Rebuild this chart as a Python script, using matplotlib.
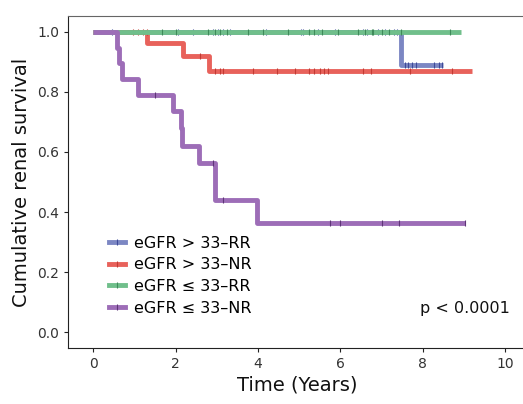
import numpy as np
import matplotlib
matplotlib.use("Agg")
import matplotlib.pyplot as plt
from matplotlib.lines import Line2D

plt.rcParams['font.family'] = ['DejaVu Sans']

labels = ["eGFR > 33\u2013RR", "eGFR > 33\u2013NR", "eGFR \u2264 33\u2013RR", "eGFR \u2264 33\u2013NR"]
colors = ["#7c87c3", "#e8625b", "#70bf8b", "#9d6db7"]
tick_colors = ["#3d4a99", "#c23a33", "#3f8a5a", "#5e3577"]

# step curves (time, survival)
blue_t = [0, 7.47, 8.49]
blue_s = [1.0, 0.891, 0.891]
blue_cens = [0.45, 2.06, 2.43, 2.90, 3.03, 3.16, 3.33, 4.20, 5.05, 5.10, 5.45, 5.87,
             6.54, 6.64, 6.90, 7.09, 7.29, 7.37, 7.57, 7.65, 7.74, 7.84, 8.26, 8.38, 8.46]

red_t = [0, 1.32, 2.18, 2.82, 9.19]
red_s = [1.0, 0.962, 0.919, 0.869, 0.869]
red_cens = [0.98, 1.10, 1.22, 1.30, 2.60, 2.95, 3.07, 3.16, 3.88, 4.46, 4.90, 5.23,
            5.37, 5.51, 5.61, 5.71, 6.55, 6.75, 7.69, 8.71]

green_t = [0, 8.92]
green_s = [1.0, 1.0]
green_cens = [1.67, 2.00, 2.80, 2.96, 3.08, 3.24, 3.77, 4.13, 4.72, 5.23, 5.37, 5.55,
              5.94, 6.42, 6.59, 6.76, 6.80, 7.01, 7.18, 7.47, 8.65]

purple_t = [0, 0.575, 0.64, 0.70, 1.10, 1.93, 2.13, 2.15, 2.56, 2.96, 3.97, 9.03]
purple_s = [1.0, 0.947, 0.895, 0.842, 0.789, 0.737, 0.68, 0.62, 0.564, 0.44, 0.364, 0.364]
purple_cens = [1.50, 2.92, 3.16, 5.74, 5.98, 7.01, 7.41, 9.03]

groups = [(blue_t, blue_s, blue_cens), (red_t, red_s, red_cens),
          (green_t, green_s, green_cens), (purple_t, purple_s, purple_cens)]

fig = plt.figure(figsize=(5.23, 4.04), dpi=100)
ax = fig.add_axes([68 / 523, 56 / 404, 458 / 523, 332 / 404])

for i, (t, s, cens) in enumerate(groups):
    ax.step(t, s, where='post', color=colors[i], lw=3.5, solid_capstyle='butt', zorder=2 + i)
    t_arr = np.array(t)
    idx = np.searchsorted(t_arr, cens, side='right') - 1
    cy = np.array(s)[idx]
    ax.plot(cens, cy, ls='none', marker='|', ms=5, mew=0.8, color=tick_colors[i], zorder=2 + i)

ax.set_xlim(-0.607, 10.5)
ax.set_ylim(-0.053, 1.053)
ax.set_xticks([0, 2, 4, 6, 8, 10])
ax.set_yticks([0.0, 0.2, 0.4, 0.6, 0.8, 1.0])
ax.set_yticklabels(["0.0", "0.2", "0.4", "0.6", "0.8", "1.0"])
ax.tick_params(labelsize=10, colors="#222222", length=3, width=0.8, labelcolor="#333333")

for side in ['left', 'bottom']:
    ax.spines[side].set_color("#222222")
    ax.spines[side].set_linewidth(0.8)
ax.spines['top'].set_color("#666666")
ax.spines['top'].set_linewidth(0.8)
ax.spines['right'].set_visible(False)

ax.set_xlabel("Time (Years)", fontsize=14, color="#111111", labelpad=3)
ax.set_ylabel("Cumulative renal survival", fontsize=14, color="#111111", labelpad=4)

handles = [Line2D([0], [0], color=colors[i], lw=3.5, marker='|', ms=5, mew=0.8,
                  markeredgecolor=tick_colors[i]) for i in range(4)]
leg = ax.legend(handles, labels, loc='upper left', bbox_to_anchor=(0.075, 0.358),
                frameon=False, fontsize=11.5, handlelength=1.0, handletextpad=0.6,
                labelspacing=0.42, borderaxespad=0)

ax.text(0.965, 0.12, "p < 0.0001", transform=ax.transAxes, fontsize=11.5,
        ha='right', va='center', color="#111111")

fig.savefig("out.png", dpi=100)
